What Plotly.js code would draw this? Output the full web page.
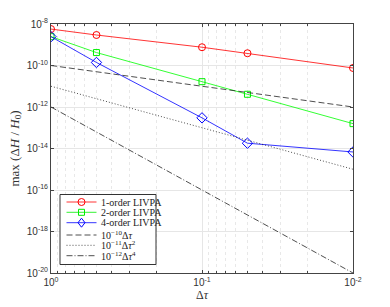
<!DOCTYPE html>
<html>
<head>
<meta charset="utf-8">
<script src="https://cdn.plot.ly/plotly-3.0.1.min.js"></script>
<style>html,body{margin:0;padding:0;background:#fff;}#chart{width:390px;height:307px;}</style>
</head>
<body>
<div id="chart"></div>
<script>
// Data
const dtau = [1, 0.5, 0.1, 0.05, 0.01];
const order1 = [5.7e-9, 2.95e-9, 7.6e-10, 3.9e-10, 7.6e-11];
const order2 = [2.45e-9, 4.2e-10, 1.66e-11, 4.1e-12, 1.58e-13];
const order4 = [2.45e-9, 1.4e-10, 3.0e-13, 1.8e-14, 6.8e-15];
const refX = [1, 0.01];
const ref1 = [1e-10, 1e-12];
const ref2 = [1e-11, 1e-15];
const ref4 = [1e-12, 1e-20];
const seriesNames = ['1-order LIVPA', '2-order LIVPA', '4-order LIVPA',
  '10<sup>−10</sup>Δ<i>τ</i>', '10<sup>−11</sup>Δ<i>τ</i><sup>2</sup>', '10<sup>−12</sup>Δ<i>τ</i><sup>4</sup>'];
const xTickVals = [1, 0.1, 0.01];
const xTickText = ['10<sup>0</sup>', '10<sup>-1</sup>', '10<sup>-2</sup>'];
const yTickVals = [1e-8, 1e-10, 1e-12, 1e-14, 1e-16, 1e-18, 1e-20];
const yTickText = ['10<sup>-8</sup>', '10<sup>-10</sup>', '10<sup>-12</sup>', '10<sup>-14</sup>', '10<sup>-16</sup>', '10<sup>-18</sup>', '10<sup>-20</sup>'];
const xMinor = [];
[1, 0.1].forEach(d => { for (let k = 2; k <= 9; k++) xMinor.push(d * k / 10); });

const colors = ['#ff0000', '#00ee00', '#0000ff', '#222', '#222', '#222'];
const dashes = ['solid', 'solid', 'solid', '6px,3px', '1px,2px', '6px,2px,1px,2px'];

const traces = [
  {x: dtau, y: order1, name: seriesNames[0], mode: 'lines+markers',
   line: {color: '#ff0000', width: 0.8}, marker: {symbol: 'circle-open', size: 7, color: '#ff0000', line: {width: 1}}},
  {x: dtau, y: order2, name: seriesNames[1], mode: 'lines+markers',
   line: {color: '#00ff00', width: 0.8}, marker: {symbol: 'square-open', size: 6, color: '#00ee00', line: {width: 1}}},
  {x: dtau, y: order4, name: seriesNames[2], mode: 'lines+markers',
   line: {color: '#0000ff', width: 0.8}, marker: {symbol: 'diamond-open', size: 8, color: '#0000ff', line: {width: 1}}},
  {x: refX, y: ref1, name: seriesNames[3], mode: 'lines',
   line: {color: '#222', width: 0.8, dash: dashes[3]}},
  {x: refX, y: ref2, name: seriesNames[4], mode: 'lines',
   line: {color: '#222', width: 0.8, dash: dashes[4]}},
  {x: refX, y: ref4, name: seriesNames[5], mode: 'lines',
   line: {color: '#222', width: 0.8, dash: dashes[5]}}
];

// Plot area in pixels (for the hand-built legend box)
const M = {l: 51, r: 37, t: 24, b: 34};
const PW = 390 - M.l - M.r, PH = 307 - M.t - M.b;
const px = v => (v - M.l) / PW;
const py = v => (307 - M.b - v) / PH;

const shapes = [];
const annotations = [];
// legend box
shapes.push({type: 'rect', xref: 'paper', yref: 'paper', x0: px(60), x1: px(156), y0: py(194.5), y1: py(264.5),
  line: {color: '#333', width: 1}, fillcolor: '#fff', layer: 'above'});
const rowY = [202, 212.3, 222.7, 235, 245.3, 255.7];
seriesNames.forEach((nm, i) => {
  const yy = py(rowY[i]);
  shapes.push({type: 'line', xref: 'paper', yref: 'paper', x0: px(66.5), x1: px(96.5), y0: yy, y1: yy,
    line: {color: i < 3 ? colors[i] : '#222', width: 0.8, dash: dashes[i]}, layer: 'above'});
  const cx = px(81.5);
  if (i === 0) {
    shapes.push({type: 'circle', xref: 'paper', yref: 'paper', xsizemode: 'pixel', ysizemode: 'pixel',
      xanchor: cx, yanchor: yy, x0: -3.5, x1: 3.5, y0: -3.5, y1: 3.5, line: {color: colors[0], width: 1}, fillcolor: 'rgba(0,0,0,0)', layer: 'above'});
  } else if (i === 1) {
    shapes.push({type: 'rect', xref: 'paper', yref: 'paper', xsizemode: 'pixel', ysizemode: 'pixel',
      xanchor: cx, yanchor: yy, x0: -3, x1: 3, y0: -3, y1: 3, line: {color: colors[1], width: 1}, fillcolor: 'rgba(0,0,0,0)', layer: 'above'});
  } else if (i === 2) {
    shapes.push({type: 'path', xref: 'paper', yref: 'paper', xsizemode: 'pixel', ysizemode: 'pixel',
      xanchor: cx, yanchor: yy, path: 'M0,4.5 L3.5,0 L0,-4.5 L-3.5,0 Z', line: {color: colors[2], width: 1}, fillcolor: 'rgba(0,0,0,0)', layer: 'above'});
  }
  annotations.push({xref: 'paper', yref: 'paper', x: px(98.5), y: yy, xanchor: 'left', yanchor: 'middle',
    text: nm, showarrow: false, font: {family: 'Liberation Serif, serif', size: 10, color: '#222'}});
});

const axisCommon = {
  type: 'log', showline: true, linecolor: '#444', linewidth: 1, mirror: 'ticks',
  ticks: 'inside', ticklen: 3, tickcolor: '#444', gridcolor: '#e6e6e6', gridwidth: 1,
  zeroline: false, tickfont: {family: 'Liberation Sans, Arial, sans-serif', size: 10, color: '#333'}
};

const layout = {
  width: 390, height: 307,
  margin: M,
  paper_bgcolor: '#fff', plot_bgcolor: '#fff',
  showlegend: false,
  xaxis: Object.assign({}, axisCommon, {
    range: [0, -2], tickmode: 'array', tickvals: xTickVals, ticktext: xTickText,
    minor: {tickmode: 'array', tickvals: xMinor, ticks: 'inside', ticklen: 2, tickcolor: '#444',
            showgrid: true, gridcolor: '#e8e8e8', griddash: 'dot', gridwidth: 1},
    title: {text: 'Δ<i>τ</i>', font: {family: 'Liberation Serif, serif', size: 12, color: '#333'}, standoff: 0}
  }),
  yaxis: Object.assign({}, axisCommon, {
    range: [-20, -8], tickmode: 'array', tickvals: yTickVals, ticktext: yTickText,
    title: {text: 'max (Δ<i>H</i> / <i>H</i><sub>0</sub>)', font: {family: 'Liberation Serif, serif', size: 13, color: '#333'}, standoff: 4}
  }),
  shapes: shapes,
  annotations: annotations
};

Plotly.newPlot('chart', traces, layout, {displayModeBar: false, staticPlot: true});
</script>
</body>
</html>
